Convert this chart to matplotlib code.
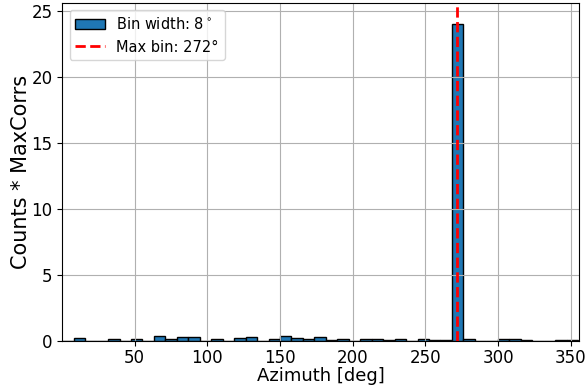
import numpy as np
import matplotlib.pyplot as plt

# histogram of azimuths weighted by max correlation
az_min = 0.2
az_max = 355.0
n_bins = 45
counts = [0.04, 0.27, 0.03, 0.02, 0.20, 0.02, 0.17, 0.07, 0.38, 0.15,
          0.35, 0.30, 0.07, 0.20, 0.07, 0.27, 0.32, 0.07, 0.22, 0.40,
          0.25, 0.17, 0.30, 0.10, 0.22, 0.03, 0.22, 0.22, 0.10, 0.22,
          0.03, 0.20, 0.10, 0.13, 24.0, 0.20, 0.05, 0.02, 0.15, 0.15,
          0.10, 0.02, 0.02, 0.13, 0.10]
bin_width = 8
max_bin = 272

edges = np.linspace(az_min, az_max, n_bins + 1)
centers = 0.5 * (edges[:-1] + edges[1:])

fig, ax = plt.subplots(figsize=(5.87, 3.88), dpi=100)
fig.subplots_adjust(left=0.106, right=0.986, top=0.992, bottom=0.12)

ax.hist(centers, bins=edges, weights=counts, color='#1f77b4',
        edgecolor='black', label=f'Bin width: {bin_width}$^\\circ$')
ax.axvline(max_bin, color='red', linestyle='--', linewidth=2,
           label=f'Max bin: {max_bin}°')

ax.set_xlim(edges[0], edges[-1] + 0.5)
ax.set_ylim(0, 25.6)
ax.set_xlabel('Azimuth [deg]', fontsize=13, labelpad=0)
ax.set_ylabel('Counts * MaxCorrs', fontsize=15, labelpad=0)
ax.tick_params(labelsize=12)
ax.tick_params(axis='x', pad=2)
ax.grid(True)
ax.legend(fontsize=10.5, loc='upper left')

fig.savefig('out.png', dpi=100)
